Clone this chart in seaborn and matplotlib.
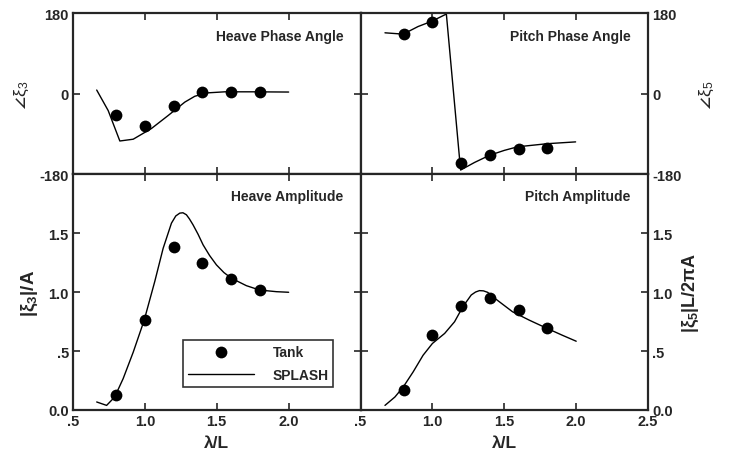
import numpy as np
import pandas as pd
import matplotlib
matplotlib.use("Agg")
import matplotlib.pyplot as plt
import seaborn as sns

# measured points (Tank)
tank_x = [0.8, 1.0, 1.2, 1.4, 1.6, 1.8]
tank_heave_phase = [-47, -72, -27, 3, 4, 4]
tank_pitch_phase = [133, 161, -156, -138, -125, -121]
tank_heave_amp = [0.124, 0.76, 1.385, 1.25, 1.11, 1.02]
tank_pitch_amp = [0.167, 0.634, 0.88, 0.946, 0.847, 0.697]

# computed curves (SPLASH)
heave_phase_x = [0.665, 0.745, 0.826, 0.919, 1.046, 1.162, 1.278, 1.347, 1.428, 1.556, 1.75, 2.0]
heave_phase_y = [8, -38, -106, -102, -78, -49, -19, -6, 1.5, 4, 4, 3.5]
pitch_phase_x = [0.670, 0.797, 0.900, 0.997, 1.097, 1.196, 1.293, 1.397, 1.5, 1.592, 1.8, 1.996]
pitch_phase_y = [136, 133, 150, 162, 178, -171, -154, -138, -127, -119, -112, -108]
heave_amp_x = [0.665, 0.734, 0.79, 0.849, 0.919, 0.995, 1.069, 1.127, 1.185, 1.215, 1.243,
               1.265, 1.289, 1.31, 1.335, 1.37, 1.405, 1.45, 1.498, 1.55, 1.602, 1.706,
               1.798, 1.915, 2.0]
heave_amp_y = [0.068, 0.039, 0.11, 0.266, 0.49, 0.76, 1.09, 1.37, 1.584, 1.645, 1.669,
               1.672, 1.655, 1.62, 1.57, 1.49, 1.40, 1.31, 1.23, 1.165, 1.117, 1.054,
               1.017, 1.003, 0.998]
pitch_amp_x = [0.670, 0.739, 0.797, 0.866, 0.935, 1.0, 1.085, 1.154, 1.212, 1.27, 1.3, 1.327,
               1.355, 1.385, 1.42, 1.465, 1.557, 1.673, 1.788, 1.903, 2.0]
pitch_amp_y = [0.039, 0.11, 0.195, 0.323, 0.464, 0.564, 0.649, 0.748, 0.876, 0.975, 1.0, 1.012,
               1.01, 0.997, 0.96, 0.918, 0.833, 0.762, 0.697, 0.634, 0.583]

x_ticks = [0.5, 1.0, 1.5, 2.0, 2.5]
x_labels = [".5", "1.0", "1.5", "2.0", "2.5"]
phase_ticks = [-180, 0, 180]
amp_ticks = [0.0, 0.5, 1.0, 1.5]
amp_labels = ["0.0", ".5", "1.0", "1.5"]

sns.set_style("ticks")
plt.rcParams["font.family"] = ["Liberation Sans", "DejaVu Sans"]
plt.rcParams["font.weight"] = "bold"
plt.rcParams["mathtext.fontset"] = "custom"
plt.rcParams["mathtext.rm"] = "Liberation Sans:bold"
plt.rcParams["mathtext.it"] = "Liberation Sans:bold"
plt.rcParams["mathtext.default"] = "regular"

fig = plt.figure(figsize=(7.29, 4.56), dpi=100)
gs = fig.add_gridspec(2, 2, left=0.1001, right=0.889, bottom=0.0987, top=0.969,
                      height_ratios=[161, 236], hspace=0, wspace=0)
ax_hp = fig.add_subplot(gs[0, 0])
ax_pp = fig.add_subplot(gs[0, 1])
ax_ha = fig.add_subplot(gs[1, 0])
ax_pa = fig.add_subplot(gs[1, 1])

panels = [
    (ax_hp, heave_phase_x, heave_phase_y, tank_heave_phase, "Heave Phase Angle"),
    (ax_pp, pitch_phase_x, pitch_phase_y, tank_pitch_phase, "Pitch Phase Angle"),
    (ax_ha, heave_amp_x, heave_amp_y, tank_heave_amp, "Heave Amplitude"),
    (ax_pa, pitch_amp_x, pitch_amp_y, tank_pitch_amp, "Pitch Amplitude"),
]

for ax, lx, ly, ty, title in panels:
    sns.lineplot(x=lx, y=ly, ax=ax, color="black", linewidth=1.0, estimator=None,
                 sort=False, label="SPLASH")
    sns.scatterplot(x=tank_x, y=ty, ax=ax, color="black", s=72, edgecolor="black",
                    linewidth=0, label="Tank", zorder=3)
    ax.set_xlim(0.5, 2.5)
    ax.set_xticks(x_ticks)
    ax.tick_params(direction="in", length=5, width=1.2, top=True, right=True,
                   labelsize=10.5, pad=3)
    for s in ax.spines.values():
        s.set_linewidth(1.6)
    ax.text(0.94, 0.90 if ax in (ax_hp, ax_pp) else 0.935, title, transform=ax.transAxes,
            ha="right", va="top", fontsize=10, fontweight="bold")
    if ax.legend_:
        ax.legend_.remove()

for ax in (ax_hp, ax_pp):
    ax.set_ylim(-180, 180)
    ax.set_yticks(phase_ticks)
    ax.set_yticklabels([str(t) for t in phase_ticks])
    ax.tick_params(labelbottom=False)

for ax in (ax_ha, ax_pa):
    ax.set_ylim(0, 2.0)
    ax.set_yticks(amp_ticks)
    ax.set_yticklabels(amp_labels)
    ax.set_xlabel("λ/L", fontsize=12.5, fontweight="bold", labelpad=5)

ax_ha.set_xticklabels(x_labels[:-1] + [""])
ax_pa.set_xticklabels(x_labels)

for ax in (ax_pp, ax_pa):
    ax.yaxis.tick_right()
    ax.yaxis.set_label_position("right")
    ax.tick_params(left=True, right=True, labelleft=False, labelright=True)

ax_hp.set_ylabel(r"$\angle\xi_3$", fontsize=12.5, fontweight="normal", labelpad=6)
ax_pp.set_ylabel(r"$\angle\xi_5$", fontsize=12.5, fontweight="normal", labelpad=12)
ax_ha.set_ylabel(r"|$\xi_3$|/A", fontsize=13.5, fontweight="bold", labelpad=6)
ax_pa.set_ylabel(r"|$\xi_5$|L/2$\pi$A", fontsize=13, fontweight="bold", labelpad=6)

handles, labels = ax_ha.get_legend_handles_labels()
order = [labels.index("Tank"), labels.index("SPLASH")]
leg = ax_ha.legend([handles[i] for i in order], [labels[i] for i in order],
                   loc="lower left", bbox_to_anchor=(0.382, 0.097), borderaxespad=0,
                   frameon=True, fancybox=False, edgecolor="black", handlelength=4.8,
                   fontsize=10, borderpad=0.35, labelspacing=0.7, handletextpad=1.3)
leg.get_frame().set_linewidth(1.2)

fig.savefig("out.png", dpi=100)
